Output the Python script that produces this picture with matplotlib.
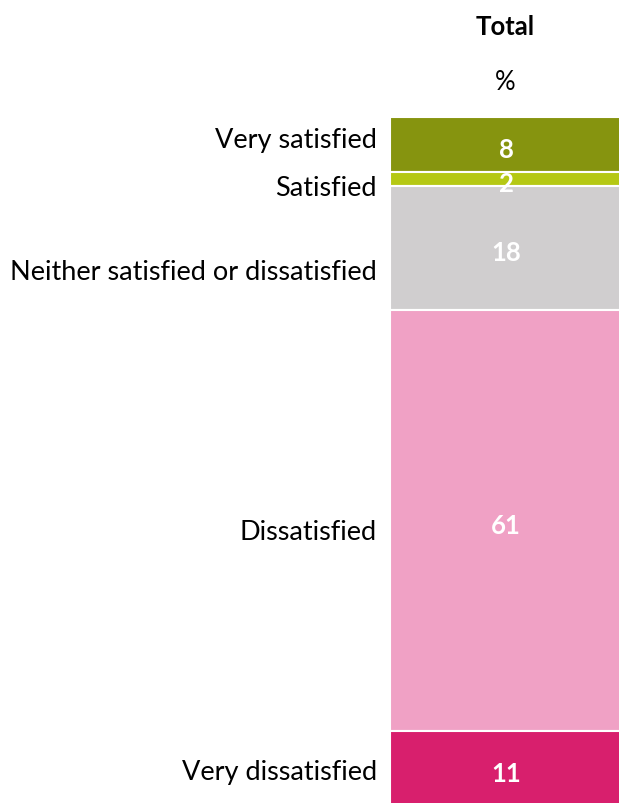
import numpy as np
import matplotlib.pyplot as plt
import matplotlib.transforms as mtransforms

plt.rcParams['font.family'] = ['Lato', 'DejaVu Sans']

categories = ['Very satisfied', 'Satisfied', 'Neither satisfied or dissatisfied',
              'Dissatisfied', 'Very dissatisfied']
values = [8, 2, 18, 61, 11]
colors = ['#86940f', '#b5c814', '#d0cecf', '#f0a1c5', '#d81f6d']
# label nudges (in data units) so the category names don't crowd each other
label_shift = [-0.8, 1.2, 3.4, 1.6, 0.3]

fig = plt.figure(figsize=(6.19, 8.04), dpi=100)
ax = fig.add_axes([390/619, -4/804, 232/619, (804-114)/804])

bottoms = np.concatenate([[0], np.cumsum(values)[:-1]])
ax.bar(0, values, bottom=bottoms, width=1, color=colors, edgecolor='white', linewidth=1.5)
ax.set_xlim(-0.5, 0.5)
ax.set_ylim(sum(values), 0)
ax.axis('off')

lab_tr = mtransforms.blended_transform_factory(ax.transAxes, ax.transData)
for cat, v, b, sh in zip(categories, values, bottoms, label_shift):
    mid = b + v/2
    ax.text(0, mid + 0.6, str(v), ha='center', va='center', color='white',
            fontsize=18.5, fontweight='bold')
    ax.text(-13/232, mid + sh, cat, transform=lab_tr, ha='right', va='center',
            fontsize=19.5, color='black')

fig.text(505/619, 1 - 27/804, 'Total', ha='center', va='center', fontsize=18.5, fontweight='bold')
fig.text(505/619, 1 - 82/804, '%', ha='center', va='center', fontsize=18.5)

fig.savefig('out.png', dpi=100)
